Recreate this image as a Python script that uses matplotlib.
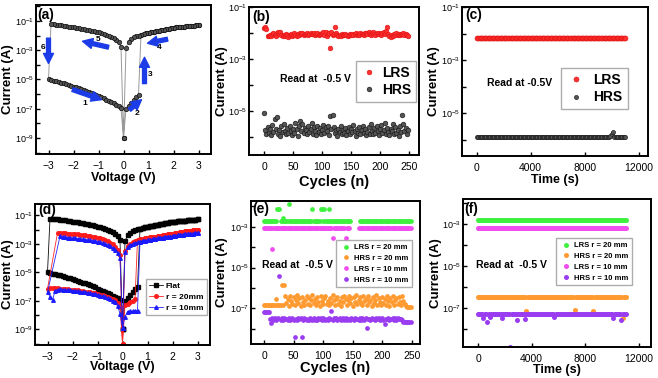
import numpy as np
import matplotlib
matplotlib.use("Agg")
import matplotlib.pyplot as plt
from matplotlib.ticker import NullLocator

plt.rcParams["font.family"] = ["Liberation Sans", "DejaVu Sans"]
plt.rcParams["mathtext.default"] = "regular"

# ---------------- data (log10 of current in A) ----------------
V_NEG = [-3.0, -2.9, -2.8, -2.7, -2.6, -2.5, -2.4, -2.3, -2.2, -2.1,
         -2.0, -1.9, -1.8, -1.7, -1.6, -1.5, -1.4, -1.3, -1.2, -1.1,
         -1.0, -0.9, -0.8, -0.7, -0.6, -0.5, -0.4, -0.3, -0.2, -0.1]
V_POS = [0.1, 0.2, 0.3, 0.4, 0.5, 0.6, 0.7, 0.8, 0.9, 1.0,
         1.1, 1.2, 1.3, 1.4, 1.5, 1.6, 1.7, 1.8, 1.9, 2.0,
         2.1, 2.2, 2.3, 2.4, 2.5, 2.6, 2.7, 2.8, 2.9, 3.0]

# flat device, (a) and black curve of (d)
FLAT_HRS_NEG = [-5.00, -5.04, -5.08, -5.12, -5.17, -5.22, -5.27, -5.32, -5.37, -5.42,
                -5.48, -5.54, -5.60, -5.66, -5.72, -5.78, -5.84, -5.91, -5.98, -6.06,
                -6.14, -6.22, -6.30, -6.38, -6.46, -6.55, -6.63, -6.72, -6.83, -6.97]
FLAT_LRS_NEG = [-1.22, -1.23, -1.26, -1.28, -1.30, -1.32, -1.35, -1.38, -1.41,
                -1.43, -1.46, -1.49, -1.52, -1.55, -1.58, -1.61, -1.65, -1.69, -1.73,
                -1.78, -1.83, -1.89, -1.95, -2.02, -2.10, -2.19, -2.30, -2.46, -2.75]
FLAT_HRS_POS = [-7.00, -6.82, -6.58, -6.38, -6.20, -6.05]
FLAT_LRS_POS = [-2.82, -2.40, -2.22, -2.12, -2.05, -1.99, -1.94, -1.89, -1.84, -1.80,
                -1.76, -1.72, -1.68, -1.65, -1.61, -1.58, -1.55, -1.52, -1.49, -1.47,
                -1.44, -1.42, -1.40, -1.38, -1.36, -1.34, -1.32, -1.31, -1.29, -1.28]
FLAT_ZERO = -9.0

# bent r = 20 mm
R20_HRS_NEG = [-6.15, -6.13, -6.12, -6.12, -6.13, -6.14, -6.15, -6.17, -6.19, -6.21,
               -6.23, -6.25, -6.27, -6.30, -6.32, -6.35, -6.38, -6.41, -6.44, -6.48,
               -6.52, -6.56, -6.61, -6.66, -6.72, -6.79, -6.87, -6.97, -7.12, -7.40]
R20_LRS_NEG = [-2.24, -2.25, -2.26, -2.27, -2.28, -2.29, -2.31, -2.32, -2.34, -2.36,
               -2.38, -2.40, -2.43, -2.46, -2.49, -2.52, -2.56, -2.61, -2.67, -2.74,
               -2.82, -2.92, -3.04, -3.20, -3.42, -3.75]
R20_HRS_POS = [-7.30, -7.20, -7.10, -7.00, -6.90]
R20_LRS_POS = [-3.50, -3.15, -2.98, -2.88, -2.80, -2.74, -2.69, -2.65, -2.61, -2.58,
               -2.55, -2.52, -2.49, -2.46, -2.43, -2.40, -2.37, -2.34, -2.31, -2.28,
               -2.25, -2.22, -2.19, -2.16, -2.13, -2.10, -2.07, -2.05, -2.02, -2.00]
R20_ZERO = -10.0

# bent r = 10 mm
R10_HRS_NEG = [-6.40, -6.70, -6.95, -6.30, -6.22, -6.20, -6.21, -6.22, -6.24, -6.26,
               -6.28, -6.30, -6.32, -6.35, -6.37, -6.40, -6.43, -6.46, -6.50, -6.54,
               -6.58, -6.63, -6.68, -6.74, -6.81, -6.89, -6.98, -7.10, -7.35, -7.90]
R10_LRS_NEG = [-2.47, -2.50, -2.53, -2.56, -2.58, -2.60, -2.62, -2.64, -2.66, -2.68,
               -2.70, -2.72, -2.75, -2.78, -2.82, -2.86, -2.90, -2.95, -3.01, -3.08,
               -3.17, -3.28, -3.42, -3.62, -4.00]
R10_HRS_POS = [-8.10, -7.75, -7.72, -7.73, -7.70, -7.68]
R10_LRS_POS = [-3.60, -3.25, -3.10, -3.00, -2.93, -2.88, -2.84, -2.80, -2.77, -2.74,
               -2.71, -2.68, -2.65, -2.62, -2.59, -2.57, -2.54, -2.51, -2.49, -2.46,
               -2.44, -2.41, -2.39, -2.36, -2.34, -2.32, -2.30, -2.28, -2.26, -2.24]
R10_ZERO = -8.9

# arrows in (a): tail V, tail log I, head V, head log I, label, label V, label log I
ARROWS_A = [
    (-2.04, -5.69, -0.88, -6.38, "1", -1.56, -6.66),
    (0.24, -7.07, 0.72, -6.38, "2", 0.56, -7.34),
    (0.84, -5.28, 0.84, -3.48, "3", 1.08, -4.66),
    (1.76, -2.24, 0.96, -2.52, "4", 1.44, -2.79),
    (-0.60, -2.79, -1.64, -2.38, "5", -1.00, -2.24),
    (-3.00, -2.17, -3.00, -3.90, "6", -3.20, -2.80),
]

# endurance (b), one value every 2 cycles
CYCLES = np.arange(0, 250, 2)
B_LRS = [-1.80, -1.78, -1.84, -2.10, -2.12, -2.08, -2.13, -2.05, -2.02, -2.07,
         -2.10, -2.00, -1.98, -2.04, -1.96, -2.06, -2.10, -2.08, -2.12, -2.05,
         -2.09, -2.14, -2.07, -2.03, -2.11, -2.06, -2.01, -2.08, -2.10, -2.04,
         -2.06, -2.02, -2.05, -2.00, -2.07, -2.03, -2.05, -2.01, -2.06, -2.04,
         -1.99, -2.03, -2.05, -2.02, -2.08, -2.04, -2.00, -2.06, -2.03, -2.05,
         -2.02, -1.98, -2.07, -1.95, -2.10, -2.04, -2.00, -2.57, -1.97, -2.06,
         -2.03, -1.78, -2.01, -2.08, -2.12, -2.06, -2.10, -2.04, -2.09, -2.07,
         -2.05, -2.08, -2.11, -2.06, -2.03, -2.07, -2.04, -2.09, -2.05, -2.02,
         -2.06, -2.04, -2.08, -2.01, -2.05, -2.03, -2.07, -2.02, -2.00, -2.04,
         -1.98, -2.03, -2.06, -2.01, -1.97, -2.04, -2.08, -2.02, -2.05, -1.99,
         -2.04, -2.07, -2.02, -1.98, -2.05, -1.94, -1.78, -2.03, -2.10, -2.14,
         -2.08, -2.12, -2.05, -2.09, -2.02, -2.06, -2.03, -2.07, -2.05, -2.04,
         -2.02, -2.06, -2.04, -2.08, -2.10]
B_HRS = [-5.10, -5.75, -5.90, -5.62, -5.85, -5.70, -5.93, -5.55, -5.80, -5.30,
         -5.68, -5.25, -5.88, -5.72, -5.95, -5.60, -5.82, -5.50, -5.78, -5.90,
         -5.65, -5.87, -5.58, -5.79, -5.92, -5.71, -5.84, -5.45, -5.69, -5.97,
         -5.60, -5.40, -5.77, -5.52, -5.86, -5.66, -5.74, -5.91, -5.57, -5.83,
         -5.70, -5.48, -5.88, -5.62, -5.76, -5.94, -5.58, -5.81, -5.67, -5.89,
         -5.73, -5.55, -5.85, -5.64, -5.79, -5.60, -5.92, -5.20, -5.70, -5.15,
         -5.63, -5.86, -5.74, -5.96, -5.68, -5.82, -5.59, -5.90, -5.72, -5.84,
         -5.66, -5.93, -5.77, -5.61, -5.88, -5.70, -5.83, -5.54, -5.79, -5.95,
         -5.68, -5.85, -5.62, -5.90, -5.75, -5.58, -5.87, -5.71, -5.93, -5.80,
         -5.64, -5.89, -5.50, -5.76, -5.91, -5.67, -5.84, -5.60, -5.78, -5.94,
         -5.70, -5.56, -5.86, -5.73, -5.45, -5.88, -5.65, -5.81, -5.92, -5.69,
         -5.77, -5.52, -5.90, -5.63, -5.84, -5.74, -5.96, -5.60, -5.82, -5.15,
         -5.50, -5.78, -5.66, -5.88, -5.72]

# endurance (e)
E_LRS20_LEVEL = -2.71
E_LRS20_OUT = [(22, -2.11), (24, -2.11), (26, -2.11), (32, -2.55), (42, -1.89),
               (82, -2.11), (96, -2.11), (98, -2.13), (102, -2.11), (110, -2.11),
               (150, -2.15), (152, -2.13), (154, -2.12), (156, -2.13), (158, -2.12)]
E_LRS20_GAP = (148, 160)
E_LRS10_LEVEL = -3.07
E_LRS10_OUT = [(14, -4.07), (116, -3.55), (138, -3.55)]
E_LRS10_GAP = (146, 158)
E_HRS20 = [-6.85, -6.84, -6.86, -6.85, -6.83, -6.86, -6.85, -6.84, -6.86, -6.85,
           -6.56, -6.84, -6.86, -6.85, -6.83,
           -5.84, -6.85, -5.86, -6.42, -6.72, -6.55, -6.88, -6.38, -6.64, -6.80,
           -6.47, -6.85, -6.60, -6.36, -6.75, -6.52, -6.87, -6.44, -6.68, -6.82,
           -6.58, -6.40, -6.78, -6.50, -6.86, -6.62, -6.37, -6.74, -6.55, -6.84,
           -6.45, -6.70, -6.88, -6.41, -6.63, -6.80, -6.52, -6.39, -6.77, -6.66,
           -6.86, -6.48, -6.72, -6.35, -6.60, -6.83, -6.54, -6.43, -6.79, -6.67,
           -6.88, -6.46, -6.71, -6.38, -6.57, -6.85, -6.62, -6.40, -6.76, -6.51,
           -6.87, -6.44, -6.69, -6.36, -6.81, -6.59, -6.47, -6.73, -6.86, -6.42,
           -6.65, -6.53, -6.84, -6.39, -6.70, -6.58, -6.88, -6.45, -6.76, -6.61,
           -6.37, -6.83, -6.50, -6.68, -6.86, -6.43, -6.74, -6.56, -6.82, -6.40,
           -6.66, -6.87, -6.49, -6.71, -6.38, -6.84, -6.60, -6.52, -6.79, -6.45,
           -6.69, -6.86, -6.40, -6.63, -6.78, -6.88, -6.92, -6.95, -6.94, -6.96]
E_HRS10 = [-7.18, -7.17, -7.19, -7.18, -7.17, -7.55, -7.75, -7.50, -7.56, -7.48,
           -7.58, -7.52, -7.46, -5.44, -7.57, -7.50, -7.60, -7.47, -7.55, -7.51,
           -7.59, -7.49, -7.56, -7.53, -7.47, -7.58, -8.41, -7.52, -7.57, -7.46,
           -7.55, -7.50, -8.41, -7.58, -7.48, -7.54, -7.60, -7.51, -7.57, -7.46,
           -7.53, -7.59, -7.49, -7.56, -7.52, -7.58, -7.47, -7.55, -7.50, -7.57,
           -7.48, -7.54, -7.59, -7.51, -7.56, -7.46, -7.53, -7.13, -7.58, -7.50,
           -7.55, -7.49, -7.57, -7.52, -7.47, -7.58, -7.54, -7.50, -7.56, -7.48,
           -7.59, -7.53, -7.51, -7.57, -7.46, -7.55, -7.60, -7.49, -7.54, -7.52,
           -7.58, -7.47, -7.56, -7.50, -7.53, -7.59, -7.48, -7.99, -7.55, -7.51,
           -7.57, -7.46, -7.54, -7.52, -7.58, -7.49, -7.55, -7.50, -7.56, -7.53,
           -7.48, -7.57, -7.80, -7.51, -7.55, -7.47, -7.59, -7.52, -7.54, -7.49,
           -7.56, -7.50, -7.58, -7.47, -7.53, -7.55, -7.51, -7.57, -7.67, -7.68,
           -7.67, -7.68, -7.66, -7.67, -7.68]

# retention (c) and (f), one reading every 100 s
TIMES = np.arange(0, 11001, 100)
C_LRS_LEVEL = -2.16
C_HRS_LEVEL = -5.89
C_HRS_OUT = [(9900, -5.84), (10000, -5.76), (10100, -5.68)]
F_LRS20_LEVEL = -2.80
F_HRS20_LEVEL = -6.46
F_HRS20_OUT = [(3600, -7.14), (7200, -7.10), (8600, -7.14), (10800, -7.46)]
F_LRS10_LEVEL = -3.16
F_HRS10_LEVEL = -7.29
F_HRS10_OUT = [(400, -7.49), (700, -7.65), (900, -7.41), (1800, -7.49), (2400, -8.85),
               (2900, -7.57), (3500, -7.52), (5700, -7.42), (10100, -7.50), (10700, -7.57)]

GREEN = "#3ff03f"
ORANGE = "#ff9a30"
PINK = "#f04cf0"
PURPLE = "#9a3cf0"
BLUE_ARROW = "#1c3ce8"


def iv_loop(hrs_neg, lrs_neg, hrs_pos, lrs_pos, zero):
    # one full sweep: 0 -> +3 -> 0 -> -3 -> 0
    n_h = len(hrs_pos)
    v = [0.0] + V_POS[:n_h] + V_POS[n_h:] + V_POS[::-1] + [0.0]
    y = [zero] + hrs_pos + lrs_pos[n_h:] + lrs_pos[::-1] + [zero]
    n_l = len(lrs_neg)
    v += V_NEG[-n_l:][::-1] + V_NEG + [0.0]
    y += lrs_neg[::-1] + hrs_neg + [zero]
    return np.array(v), 10.0 ** np.array(y)


def flat_series(x, level, outliers, gap=None):
    y = np.full(len(x), level, dtype=float)
    for xo, yo in outliers:
        y[np.argmin(np.abs(x - xo))] = yo
    if gap is not None:
        y[(x >= gap[0]) & (x <= gap[1])] = np.nan
    return 10.0 ** y


def log_axis(ax, lo, hi, labelled):
    ax.set_yscale("log")
    ax.set_ylim(10.0 ** lo, 10.0 ** hi)
    exps = list(range(int(np.ceil(lo)), int(np.floor(hi)) + 1))
    ax.set_yticks([10.0 ** k for k in exps])
    ax.set_yticklabels(["$10^{%d}$" % k if k in labelled else "" for k in exps])
    ax.yaxis.set_minor_locator(NullLocator())


def style(ax, w_px, h_px, xlabel, xl_size, xl_off, yl_off, tag, tag_xy):
    for s in ax.spines.values():
        s.set_linewidth(1.4)
    ax.tick_params(direction="in", length=3, width=1, pad=2)
    ax.tick_params(axis="x", pad=5, labelsize=7.5)
    ax.tick_params(axis="y", labelsize=6.5, pad=1.5)
    ax.set_xlabel(xlabel, fontsize=xl_size, fontweight="bold")
    ax.set_ylabel("Current (A)", fontsize=9.5, fontweight="bold")
    ax.xaxis.set_label_coords(0.5, -xl_off / h_px)
    ax.xaxis.label.set_va("center")
    ax.yaxis.set_label_coords(-yl_off / w_px, 0.5)
    ax.yaxis.label.set_va("center")
    ax.text(tag_xy[0], tag_xy[1], tag, transform=ax.transAxes, fontsize=10,
            fontweight="bold", ha="left", va="center")


def add_axes(fig, left, top, right, bottom):
    W, H = 658.0, 378.0
    return fig.add_axes([left / W, 1 - bottom / H, (right - left) / W, (bottom - top) / H])


def main():
    fig = plt.figure(figsize=(6.58, 3.78), dpi=100)

    # (a) I-V of flat device
    ax = add_axes(fig, 36, 5, 211, 154)
    v, i = iv_loop(FLAT_HRS_NEG, FLAT_LRS_NEG, FLAT_HRS_POS, FLAT_LRS_POS, FLAT_ZERO)
    ax.plot(v, i, "-", color="#9a9a9a", lw=0.7, zorder=1)
    ax.plot(v, i, "o", ms=3.2, mfc="#555555", mec="#111111", mew=0.5, zorder=2)
    for tv, ti, hv, hi, lab, lv, li in ARROWS_A:
        ax.annotate("", xy=(hv, 10 ** hi), xytext=(tv, 10 ** ti),
                    arrowprops=dict(arrowstyle="simple,head_length=0.9,head_width=0.9,tail_width=0.35",
                                    color=BLUE_ARROW, mutation_scale=8, shrinkA=0, shrinkB=0))
        ax.text(lv, 10 ** li, lab, fontsize=6, fontweight="bold", ha="center", va="center")
    ax.set_xlim(-3.5, 3.5)
    ax.set_xticks([-3, -2, -1, 0, 1, 2, 3])
    log_axis(ax, -10.1, 0.1, [-1, -3, -5, -7, -9])
    style(ax, 175, 149, "Voltage (V)", 9, 24, 28, "(a)", (0.01, 0.935))

    # (b) endurance
    ax = add_axes(fig, 249, 7, 419, 155)
    ax.plot(CYCLES, 10.0 ** np.array(B_LRS), "o", ms=3.4, mfc="#ff3030", mec="#e01010",
            mew=0.4, label="LRS")
    ax.plot(CYCLES, 10.0 ** np.array(B_HRS), "o", ms=3.4, mfc="#555555", mec="#111111",
            mew=0.4, label="HRS")
    ax.set_xlim(-26, 267)
    ax.set_xticks([0, 50, 100, 150, 200, 250])
    log_axis(ax, -6.7, -1.0, [-1, -3, -5])
    ax.text(0.39, 0.514, "Read at  -0.5 V", transform=ax.transAxes, fontsize=7.5,
            fontweight="bold", ha="center", va="center")
    leg = ax.legend(loc="upper left", bbox_to_anchor=(0.63, 0.635), borderaxespad=0,
                    prop=dict(size=10, weight="bold"), handletextpad=0.3, handlelength=1.2,
                    labelspacing=0.25, fancybox=False, borderpad=0.35)
    leg.get_frame().set_edgecolor("#999999")
    style(ax, 170, 148, "Cycles (n)", 10.5, 27, 27, "(b)", (0.02, 0.934))

    # (c) retention
    ax = add_axes(fig, 462, 7, 648, 156)
    ax.plot(TIMES, flat_series(TIMES, C_LRS_LEVEL, []), "o", ms=3.6, mfc="#ff3030",
            mec="#e01010", mew=0.4, label="LRS")
    ax.plot(TIMES, flat_series(TIMES, C_HRS_LEVEL, C_HRS_OUT), "o", ms=3.0, mfc="#555555",
            mec="#111111", mew=0.4, label="HRS")
    ax.set_xlim(-1100, 12700)
    ax.set_xticks([0, 4000, 8000, 12000])
    log_axis(ax, -6.6, -1.0, [-1, -3, -5])
    ax.text(0.31, 0.49, "Read at -0.5V", transform=ax.transAxes, fontsize=7.5,
            fontweight="bold", ha="center", va="center")
    leg = ax.legend(loc="upper left", bbox_to_anchor=(0.532, 0.59), borderaxespad=0,
                    prop=dict(size=10, weight="bold"), handletextpad=0.5, handlelength=1.5,
                    labelspacing=0.25, fancybox=False, borderpad=0.35)
    leg.get_frame().set_edgecolor("#999999")
    style(ax, 186, 149, "Time (s)", 9, 24, 28, "(c)", (0.02, 0.946))

    # (d) I-V flat vs bent
    ax = add_axes(fig, 35, 204, 210, 345)
    curves = [
        (FLAT_HRS_NEG, FLAT_LRS_NEG, FLAT_HRS_POS, FLAT_LRS_POS, FLAT_ZERO, "k", "s", "Flat"),
        (R20_HRS_NEG, R20_LRS_NEG, R20_HRS_POS, R20_LRS_POS, R20_ZERO, "#ff1a1a", "o", "r = 20mm"),
        (R10_HRS_NEG, R10_LRS_NEG, R10_HRS_POS, R10_LRS_POS, R10_ZERO, "#1a1aff", "^", "r = 10mm"),
    ]
    for hn, ln, hp, lp, z, col, mk, lab in curves:
        v, i = iv_loop(hn, ln, hp, lp, z)
        ax.plot(v, i, "-", color=col, lw=0.6, marker=mk, ms=2.6, mfc=col, mec=col,
                label=lab, alpha=0.95)
    ax.set_xlim(-3.5, 3.5)
    ax.set_xticks([-3, -2, -1, 0, 1, 2, 3])
    log_axis(ax, -10.1, -0.2, [-1, -3, -5, -7, -9])
    leg = ax.legend(loc="upper left", bbox_to_anchor=(0.634, 0.468), borderaxespad=0,
                    prop=dict(size=6, weight="bold"), handletextpad=0.4, handlelength=1.6,
                    labelspacing=0.35, fancybox=False, borderpad=0.4)
    leg.get_frame().set_edgecolor("#999999")
    style(ax, 175, 141, "Voltage (V)", 9, 22, 27, "(d)", (0.017, 0.957))

    # (e) endurance flat vs bent
    ax = add_axes(fig, 251, 201, 420, 344)
    ax.plot(CYCLES, flat_series(CYCLES, E_LRS20_LEVEL, E_LRS20_OUT, E_LRS20_GAP), "o",
            ms=3.4, color=GREEN, mew=0, label="LRS r = 20 mm")
    ax.plot(CYCLES, 10.0 ** np.array(E_HRS20), "o", ms=3.4, color=ORANGE, mew=0,
            label="HRS r = 20 mm")
    ax.plot(CYCLES, flat_series(CYCLES, E_LRS10_LEVEL, E_LRS10_OUT, E_LRS10_GAP), "o",
            ms=3.4, color=PINK, mew=0, label="LRS r = 10 mm")
    ax.plot(CYCLES, 10.0 ** np.array(E_HRS10), "o", ms=3.4, color=PURPLE, mew=0,
            label="HRS r = 10 mm")
    ax.set_xlim(-22, 264)
    ax.set_xticks([0, 50, 100, 150, 200, 250])
    log_axis(ax, -8.76, -1.73, [-3, -5, -7])
    ax.text(0.272, 0.552, "Read at  -0.5 V", transform=ax.transAxes, fontsize=7.5,
            fontweight="bold", ha="center", va="center")
    leg = ax.legend(loc="upper left", bbox_to_anchor=(0.503, 0.727), borderaxespad=0,
                    prop=dict(size=5.5, weight="bold"), handletextpad=0.3, handlelength=1.5,
                    labelspacing=0.45, fancybox=False, borderpad=0.5)
    leg.get_frame().set_edgecolor("#999999")
    style(ax, 169, 143, "Cycles (n)", 10.5, 24, 29, "(e)", (0.01, 0.944))

    # (f) retention flat vs bent
    ax = add_axes(fig, 463, 199, 651, 347)
    ax.plot(TIMES, flat_series(TIMES, F_LRS20_LEVEL, []), "o", ms=3.6, color=GREEN, mew=0,
            label="LRS r = 20 mm")
    ax.plot(TIMES, flat_series(TIMES, F_HRS20_LEVEL, F_HRS20_OUT), "o", ms=3.6, color=ORANGE,
            mew=0, label="HRS r = 20 mm")
    ax.plot(TIMES, flat_series(TIMES, F_LRS10_LEVEL, []), "o", ms=3.6, color=PINK, mew=0,
            label="LRS r = 10 mm")
    ax.plot(TIMES, flat_series(TIMES, F_HRS10_LEVEL, F_HRS10_OUT), "o", ms=3.6, color=PURPLE,
            mew=0, label="HRS r = 10 mm")
    ax.set_xlim(-1120, 12900)
    ax.set_xticks([0, 4000, 8000, 12000])
    log_axis(ax, -8.86, -1.8, [-3, -5, -7])
    ax.text(0.255, 0.554, "Read at  -0.5 V", transform=ax.transAxes, fontsize=7.5,
            fontweight="bold", ha="center", va="center")
    leg = ax.legend(loc="upper left", bbox_to_anchor=(0.495, 0.736), borderaxespad=0,
                    prop=dict(size=5.5, weight="bold"), handletextpad=0.3, handlelength=1.5,
                    labelspacing=0.45, fancybox=False, borderpad=0.5)
    leg.get_frame().set_edgecolor("#999999")
    style(ax, 188, 148, "Time (s)", 9, 23, 27, "(f)", (0.005, 0.932))

    fig.savefig("out.png", dpi=100)
    plt.close(fig)


if __name__ == "__main__":
    main()
